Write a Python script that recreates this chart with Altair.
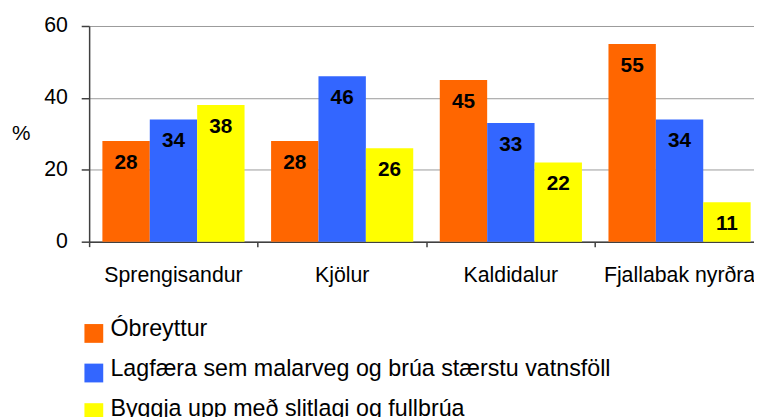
import altair as alt
import pandas as pd

categories = ["Sprengisandur", "Kjölur", "Kaldidalur", "Fjallabak nyrðra"]
series = [
    "Óbreyttur",
    "Lagfæra sem malarveg og brúa stærstu vatnsföll",
    "Byggja upp með slitlagi og fullbrúa",
]
obreyttur = [28, 28, 45, 55]
lagfaera = [34, 46, 33, 34]
byggja = [38, 26, 22, 11]
colors = ["#FF6600", "#3366FF", "#FFFF00"]
y_ticks = [0, 20, 40, 60]

rows = []
for s, vals in zip(series, [obreyttur, lagfaera, byggja]):
    for c, v in zip(categories, vals):
        rows.append({"leid": c, "svar": s, "pct": v})
df = pd.DataFrame(rows)

FONT = "Liberation Sans"

x = alt.X(
    "leid:N",
    sort=categories,
    scale=alt.Scale(range=[0, 682], paddingInner=0, paddingOuter=0),
    axis=alt.Axis(
        title=None,
        labelAngle=0,
        labelFontSize=21.5,
        labelFont=FONT,
        labelColor="black",
        labelPadding=18,
        bandPosition=0,
        tickSize=5,
        tickColor="#404040",
        tickWidth=1.5,
        domainColor="#404040",
        domainWidth=1.5,
        grid=False,
    ),
)

xoff = alt.XOffset(
    "svar:N", sort=series, scale=alt.Scale(paddingOuter=0.28, paddingInner=0)
)

y = alt.Y(
    "pct:Q",
    scale=alt.Scale(domain=[0, 60], nice=False),
    axis=alt.Axis(
        values=y_ticks,
        title="%",
        titleAngle=0,
        titleX=-69,
        titleY=109,
        titleAlign="center",
        titleBaseline="middle",
        titleFontSize=21,
        titleFontWeight="normal",
        titleFont=FONT,
        titleColor="black",
        labelFontSize=21.5,
        labelFont=FONT,
        labelColor="black",
        labelPadding=14,
        tickSize=8,
        tickColor="#404040",
        tickWidth=1.5,
        domainColor="#404040",
        domainWidth=1.5,
        grid=True,
        gridColor="#9a9a9a",
        gridWidth=1,
    ),
)

base = alt.Chart(df).encode(x=x, xOffset=xoff, y=y)

bars = base.mark_bar(strokeWidth=0).encode(
    color=alt.Color(
        "svar:N",
        sort=series,
        scale=alt.Scale(domain=series, range=colors),
        legend=alt.Legend(
            title=None,
            orient="none",
            legendX=-7,
            legendY=295,
            direction="vertical",
            symbolType="M-1,-0.58H1V1.42H-1Z",
            symbolSize=361,
            symbolStrokeWidth=0,
            symbolOpacity=1,
            labelFontSize=23.5,
            labelFont=FONT,
            labelColor="black",
            labelOffset=5,
            labelLimit=800,
            rowPadding=13,
            padding=0,
        ),
    )
)

labels = base.mark_text(
    dy=22,
    fontSize=21,
    fontWeight="bold",
    font=FONT,
    color="black",
    baseline="middle",
    align="center",
).encode(text=alt.Text("pct:Q"))

chart = (
    alt.layer(bars, labels)
    .properties(
        width=672,
        height=218,
        padding={"left": 82, "top": 16, "right": 0, "bottom": 175},
        autosize=alt.AutoSizeParams(type="none"),
    )
    .configure_view(stroke=None)
    .configure(font=FONT)
)

chart.save("out.html", embed_options={"renderer": "svg", "actions": False})
